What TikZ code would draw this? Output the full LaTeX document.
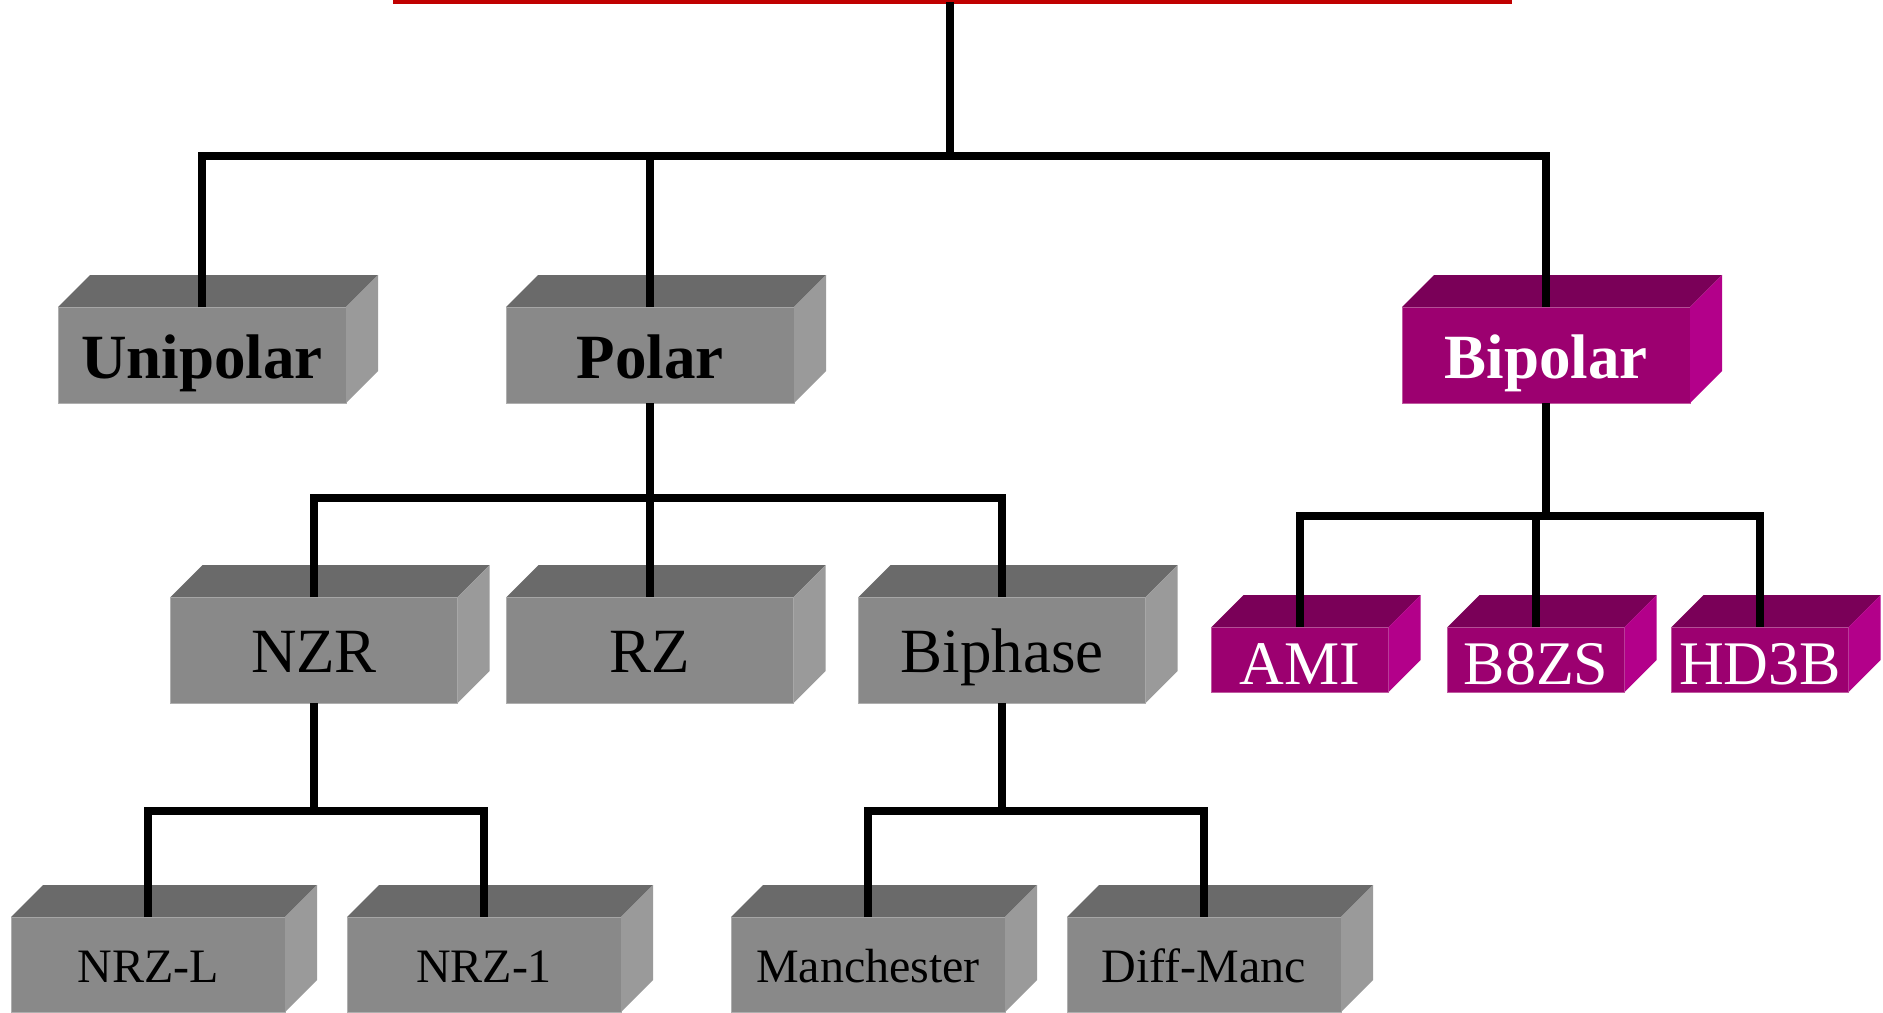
\documentclass[tikz,border=0pt]{standalone}
\usepackage{fontspec}
\setmainfont{Liberation Serif}
\usetikzlibrary{calc}
\definecolor{gfront}{RGB}{137,137,137}
\definecolor{gtop}{RGB}{106,106,106}
\definecolor{gside}{RGB}{154,154,154}
\definecolor{gedge}{RGB}{175,175,175}
\definecolor{mfront}{RGB}{156,0,112}
\definecolor{mtop}{RGB}{122,0,88}
\definecolor{mside}{RGB}{179,0,138}
\definecolor{medge}{RGB}{190,90,160}
\definecolor{rootred}{RGB}{192,0,0}
\tikzset{
  front/.style={rectangle, inner sep=0pt, outer sep=0pt, text depth=0pt, line width=0.5pt},
  gbox/.style={front, fill=gfront, draw=gedge, text=black},
  mbox/.style={front, fill=mfront, draw=medge, text=white},
  lvA/.style={font=\fontsize{31.5pt}{36pt}\selectfont\bfseries, minimum width=144pt, minimum height=48pt, text height=23pt},
  lvB/.style={font=\fontsize{31.5pt}{36pt}\selectfont, minimum width=143.5pt, minimum height=53pt, text height=22pt},
  lvC/.style={font=\fontsize{31pt}{36pt}\selectfont, minimum width=88.5pt, minimum height=32.5pt, text height=24.5pt},
  lvD/.style={font=\fontsize{24pt}{28pt}\selectfont, minimum width=137pt, minimum height=47.5pt, text height=18pt},
  conn/.style={line width=3.6pt, black},
  rootbox/.style={rectangle, draw=rootred, line width=2.2pt, outer sep=0pt, minimum width=557.5pt, minimum height=50pt},
}
\newcommand\cubefaces[4]{%
  \fill[#3] (#1.north west) -- ++(#2,-#2) -- ($(#1.north east)+(#2,-#2)$) -- (#1.north east) -- cycle;
  \fill[#4] (#1.north east) -- ++(#2,-#2) -- ($(#1.south east)+(#2,-#2)$) -- (#1.south east) -- cycle;
}
\begin{document}
\begin{tikzpicture}[x=0.5pt,y=-0.5pt]
\clip (0,0) rectangle (1883,1012);
\fill[white] (0,0) rectangle (1883,1012);
% root (cut off at top)
\node[rootbox] (root) at (952.5,-48) {};
% level 1
\node[gbox,lvA] (unipolar) at (202,355) {Unipolar};
\node[gbox,lvA] (polar) at (650,355) {Polar};
\node[mbox,lvA] (bipolar) at (1546,355) {Bipolar};
\cubefaces{unipolar}{32}{gtop}{gside}
\cubefaces{polar}{32}{gtop}{gside}
\cubefaces{bipolar}{32}{mtop}{mside}
% level 2
\node[gbox,lvB] (nzr) at (314,650) {NZR};
\node[gbox,lvB] (rz) at (650,650) {RZ};
\node[gbox,lvB] (biphase) at (1002,650) {Biphase};
\cubefaces{nzr}{32}{gtop}{gside}
\cubefaces{rz}{32}{gtop}{gside}
\cubefaces{biphase}{32}{gtop}{gside}
% bipolar children
\node[mbox,lvC] (ami) at (1300,659.5) {AMI};
\node[mbox,lvC] (b8zs) at (1536,659.5) {B8ZS};
\node[mbox,lvC] (hd3b) at (1760,659.5) {HD3B};
\cubefaces{ami}{32}{mtop}{mside}
\cubefaces{b8zs}{32}{mtop}{mside}
\cubefaces{hd3b}{32}{mtop}{mside}
% level 3
\node[gbox,lvD] (nrzl) at (148,964.5) {NRZ-L};
\node[gbox,lvD] (nrzone) at (484,964.5) {NRZ-1};
\node[gbox,lvD] (manchester) at (868,964.5) {Manchester};
\node[gbox,lvD] (diffmanc) at (1204,964.5) {Diff-Manc};
\cubefaces{nrzl}{32}{gtop}{gside}
\cubefaces{nrzone}{32}{gtop}{gside}
\cubefaces{manchester}{32}{gtop}{gside}
\cubefaces{diffmanc}{32}{gtop}{gside}
% junctions
\coordinate (j0) at (950,156);
\coordinate (j1) at (650,498);
\coordinate (j2) at (1546,516);
\coordinate (j3) at (314,811);
\coordinate (j4) at (1002,811);
% connectors
\draw[conn] (root.south -| j0) -- (j0);
\draw[conn] (unipolar.north) |- (bipolar.north |- j0) -- (bipolar.north);
\draw[conn] (polar.north) -- (polar.north |- j0);
\draw[conn] (polar.south) -- (rz.north);
\draw[conn] (nzr.north) |- (biphase.north |- j1) -- (biphase.north);
\draw[conn] (bipolar.south) -- (j2);
\draw[conn] (ami.north) |- (hd3b.north |- j2) -- (hd3b.north);
\draw[conn] (b8zs.north) -- (b8zs.north |- j2);
\draw[conn] (nzr.south) -- (j3);
\draw[conn] (nrzl.north) |- (nrzone.north |- j3) -- (nrzone.north);
\draw[conn] (biphase.south) -- (j4);
\draw[conn] (manchester.north) |- (diffmanc.north |- j4) -- (diffmanc.north);
\end{tikzpicture}
\end{document}
